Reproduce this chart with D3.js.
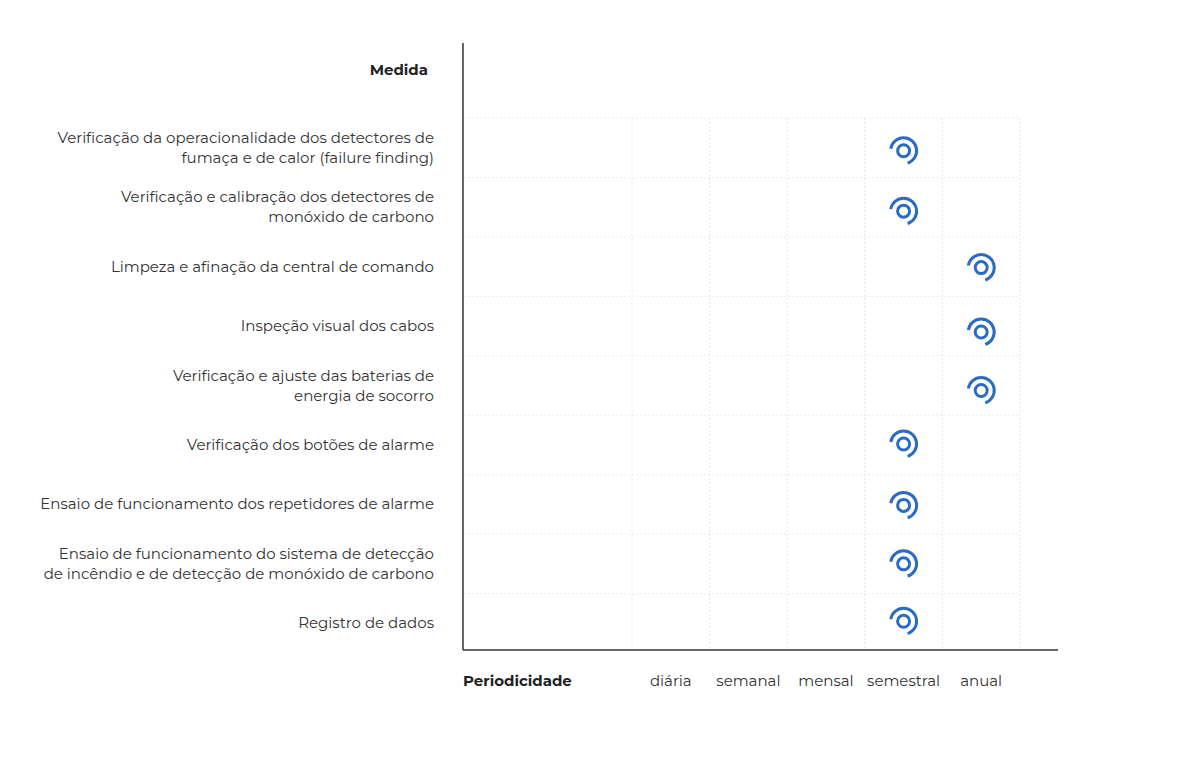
<!DOCTYPE html>
<html><head><meta charset="utf-8">
<script src="https://cdn.jsdelivr.net/npm/d3@7"></script>
<style>body{margin:0;background:#fff}text{font-family:"Montserrat","Noto Sans",sans-serif}</style>
</head><body><svg id="chart" width="1200" height="764"></svg>
<script>
var periods = ["diária", "semanal", "mensal", "semestral", "anual"];
var measures = [
  ["Verificação da operacionalidade dos detectores de", "fumaça e de calor (failure finding)"],
  ["Verificação e calibração dos detectores de", "monóxido de carbono"],
  ["Limpeza e afinação da central de comando"],
  ["Inspeção visual dos cabos"],
  ["Verificação e ajuste das baterias de", "energia de socorro"],
  ["Verificação dos botões de alarme"],
  ["Ensaio de funcionamento dos repetidores de alarme"],
  ["Ensaio de funcionamento do sistema de detecção", "de incêndio e de detecção de monóxido de carbono"],
  ["Registro de dados"]
];
var frequency = ["semestral", "semestral", "anual", "anual", "anual", "semestral", "semestral", "semestral", "semestral"];
var iconOffsetY = [3, 4, 1, 6, 5, -1, 1, 0, -2];

var svg = d3.select("#chart");
var blue = "#2b6cc0";

var x = d3.scaleBand().domain(periods).range([632, 1020]);
var y = d3.scaleBand().domain(d3.range(measures.length)).range([118, 653]);

// grid
svg.selectAll(".vg").data(periods.concat(["end"])).enter().append("line")
  .attr("x1", (d, i) => 632 + i * x.bandwidth()).attr("x2", (d, i) => 632 + i * x.bandwidth())
  .attr("y1", 118).attr("y2", 650)
  .attr("stroke", "#e6e6e6").attr("stroke-dasharray", "2,2");
svg.selectAll(".hg").data(d3.range(measures.length)).enter().append("line")
  .attr("x1", 464).attr("x2", 1020)
  .attr("y1", d => y(d)).attr("y2", d => y(d))
  .attr("stroke", "#ececec").attr("stroke-dasharray", "2,2");

// axes
svg.append("line").attr("x1", 463).attr("x2", 463).attr("y1", 43).attr("y2", 650).attr("stroke", "#333").attr("stroke-width", 1.5);
svg.append("line").attr("x1", 463).attr("x2", 1058).attr("y1", 650).attr("y2", 650).attr("stroke", "#333").attr("stroke-width", 1.5);

svg.append("text").attr("x", 428).attr("y", 75).attr("text-anchor", "end")
  .attr("font-size", 15).attr("font-weight", "bold").attr("fill", "#222").text("Medida");
svg.append("text").attr("x", 463).attr("y", 686)
  .attr("font-size", 15).attr("font-weight", "bold").attr("fill", "#222").text("Periodicidade");

svg.selectAll(".xl").data(periods).enter().append("text")
  .attr("x", d => x(d) + x.bandwidth() / 2).attr("y", 686).attr("text-anchor", "middle")
  .attr("font-size", 15).attr("fill", "#333").text(d => d);

// row labels
var rl = svg.selectAll(".rl").data(measures).enter().append("text")
  .attr("text-anchor", "end").attr("font-size", 15).attr("fill", "#333");
rl.each(function(lines, i) {
  var cy = y(i) + y.bandwidth() / 2;
  var t0 = cy - (lines.length - 1) * 10 + 5;
  d3.select(this).selectAll("tspan").data(lines).enter().append("tspan")
    .attr("x", 434).attr("y", (d, j) => t0 + j * 20).text(d => d);
});

// icons
var arc = d3.arc().innerRadius(11.5).outerRadius(14.5).startAngle(-Math.PI * 0.45).endAngle(Math.PI * 0.9);
var g = svg.selectAll(".ic").data(frequency).enter().append("g")
  .attr("transform", (d, i) => "translate(" + (x(d) + x.bandwidth() / 2) + "," + (y(i) + y.bandwidth() / 2 + iconOffsetY[i]) + ")");
g.append("circle").attr("r", 6).attr("fill", "none").attr("stroke", blue).attr("stroke-width", 3);
g.append("path").attr("d", arc).attr("fill", blue);
</script></body></html>
